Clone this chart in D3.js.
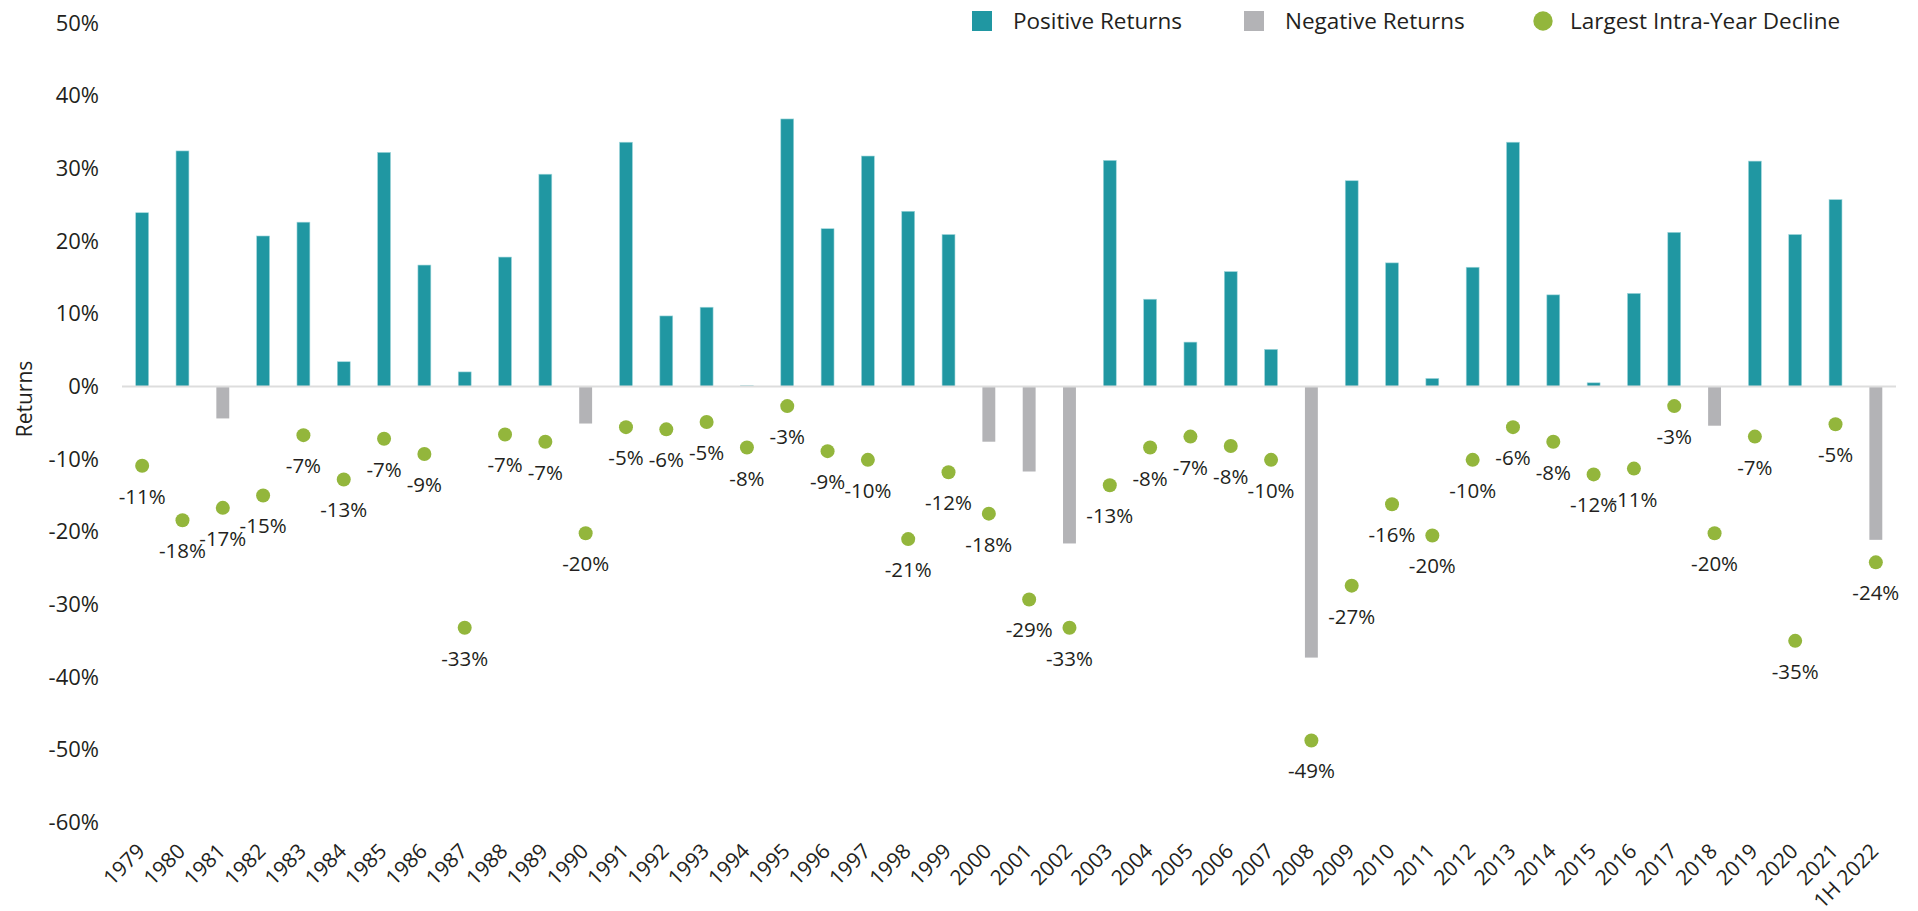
<!DOCTYPE html>
<html>
<head>
<meta charset="utf-8">
<script src="https://cdn.jsdelivr.net/npm/d3@7"></script>
<style>
  body { margin: 0; background: #fff; }
  text { font-family: "Open Sans", "Noto Sans", sans-serif; fill: #231f20; }
</style>
</head>
<body>
<svg id="chart" width="1918" height="911"></svg>
<script>
// ---- Data
const years = ['1979','1980','1981','1982','1983','1984','1985','1986','1987','1988',
  '1989','1990','1991','1992','1993','1994','1995','1996','1997','1998','1999','2000',
  '2001','2002','2003','2004','2005','2006','2007','2008','2009','2010','2011','2012',
  '2013','2014','2015','2016','2017','2018','2019','2020','2021','1H 2022'];

const annualReturns = [23.9, 32.4, -4.4, 20.7, 22.6, 3.4, 32.2, 16.7, 2.0, 17.8,
  29.2, -5.1, 33.6, 9.7, 10.9, 0.1, 36.8, 21.7, 31.7, 24.1, 20.9, -7.6,
  -11.7, -21.6, 31.1, 12.0, 6.1, 15.8, 5.1, -37.3, 28.3, 17.0, 1.1, 16.4,
  33.6, 12.6, 0.5, 12.8, 21.2, -5.4, 31.0, 20.9, 25.7, -21.1];

const intraYearDeclines = [-10.9, -18.4, -16.7, -15.0, -6.7, -12.8, -7.2, -9.3, -33.2, -6.6,
  -7.6, -20.2, -5.6, -5.9, -4.9, -8.4, -2.7, -8.9, -10.1, -21.0, -11.8, -17.5,
  -29.3, -33.2, -13.6, -8.4, -6.9, -8.2, -10.1, -48.7, -27.4, -16.2, -20.5, -10.1,
  -5.6, -7.6, -12.1, -11.3, -2.7, -20.2, -6.9, -35.0, -5.2, -24.2];

const declineLabels = ['-11%','-18%','-17%','-15%','-7%','-13%','-7%','-9%','-33%','-7%',
  '-7%','-20%','-5%','-6%','-5%','-8%','-3%','-9%','-10%','-21%','-12%','-18%',
  '-29%','-33%','-13%','-8%','-7%','-8%','-10%','-49%','-27%','-16%','-20%','-10%',
  '-6%','-8%','-12%','-11%','-3%','-20%','-7%','-35%','-5%','-24%'];

const yTicks = [50, 40, 30, 20, 10, 0, -10, -20, -30, -40, -50, -60];

const legendItems = [
  { label: 'Positive Returns', kind: 'pos' },
  { label: 'Negative Returns', kind: 'neg' },
  { label: 'Largest Intra-Year Decline', kind: 'dot' }
];

// ---- Style
const COLOR_POS = '#2097a2';
const COLOR_NEG = '#b3b3b6';
const COLOR_DOT = '#93b63c';

const svg = d3.select('#chart');
const plotLeft = 122, plotRight = 1896, plotTop = 23, plotBottom = 822.6;

// ---- Scales
const x = d3.scaleBand().domain(years).range([plotLeft, plotRight])
  .paddingInner(0.68).paddingOuter(0.34);
const y = d3.scaleLinear().domain([-60, 50]).range([plotBottom, plotTop]);

// ---- Y axis (labels only)
const yAxis = svg.append('g')
  .attr('transform', `translate(${plotLeft},0)`)
  .call(d3.axisLeft(y).tickValues(yTicks).tickSize(0).tickPadding(23)
    .tickFormat(d => d + '%'));
yAxis.select('.domain').remove();
yAxis.selectAll('text').style('font-size', '22px').style('font-family', null).attr('fill', null);

svg.append('text')
  .attr('transform', 'translate(32, 399) rotate(-90)')
  .attr('text-anchor', 'middle')
  .style('font-size', '21px')
  .text('Returns');

// ---- X axis (rotated year labels)
const xAxis = svg.append('g')
  .attr('transform', `translate(0, ${plotBottom})`)
  .call(d3.axisBottom(x).tickSize(0).tickPadding(0));
xAxis.select('.domain').remove();
xAxis.selectAll('.tick text')
  .style('font-size', '21px').style('font-family', null).attr('fill', null)
  .attr('text-anchor', 'end')
  .attr('dy', 0)
  .attr('transform', 'translate(4, 30) rotate(-45)');

// ---- Bars
svg.append('g').selectAll('rect')
  .data(years)
  .join('rect')
  .attr('x', (d) => x(d))
  .attr('width', x.bandwidth())
  .attr('y', (d, i) => y(Math.max(0, annualReturns[i])))
  .attr('height', (d, i) => Math.abs(y(annualReturns[i]) - y(0)))
  .attr('fill', (d, i) => annualReturns[i] >= 0 ? COLOR_POS : COLOR_NEG)
  .attr('stroke', (d, i) => annualReturns[i] >= 0 ? '#9fd6db' : 'none')
  .attr('stroke-width', 0.6);

// ---- Zero line
svg.append('line')
  .attr('x1', plotLeft).attr('x2', plotRight)
  .attr('y1', y(0)).attr('y2', y(0))
  .attr('stroke', '#dddddd').attr('stroke-width', 2);

// ---- Intra-year decline dots + labels
const dots = svg.append('g');
dots.selectAll('circle')
  .data(years)
  .join('circle')
  .attr('cx', d => x(d) + x.bandwidth() / 2)
  .attr('cy', (d, i) => y(intraYearDeclines[i]))
  .attr('r', 7)
  .attr('fill', COLOR_DOT);
dots.selectAll('text')
  .data(years)
  .join('text')
  .attr('x', d => x(d) + x.bandwidth() / 2)
  .attr('y', (d, i) => y(intraYearDeclines[i]) + 38)
  .attr('text-anchor', 'middle')
  .style('font-size', '20.5px')
  .text((d, i) => declineLabels[i]);

// ---- Legend
const legendX = [972, 1244, 1533];
const legend = svg.append('g');
legendItems.forEach((item, i) => {
  const g = legend.append('g').attr('transform', `translate(${legendX[i]}, 21)`);
  if (item.kind === 'dot') {
    g.append('circle').attr('cx', 10).attr('cy', 0).attr('r', 9.7).attr('fill', COLOR_DOT);
  } else {
    g.append('rect').attr('x', 0).attr('y', -10).attr('width', 20).attr('height', 20)
      .attr('fill', item.kind === 'pos' ? COLOR_POS : COLOR_NEG);
  }
  g.append('text')
    .attr('x', item.kind === 'dot' ? 37 : 41)
    .attr('dy', '0.36em')
    .style('font-size', '22.5px')
    .text(item.label);
});
</script>
</body>
</html>
